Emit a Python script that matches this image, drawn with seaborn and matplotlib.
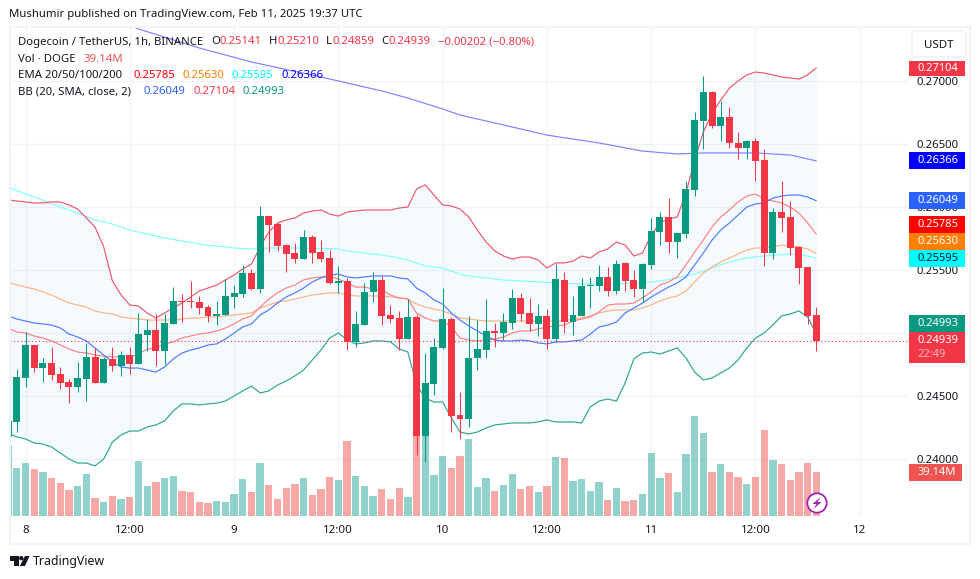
import matplotlib
matplotlib.use("Agg")
import matplotlib.pyplot as plt
from matplotlib.patches import Rectangle, Circle, Polygon, FancyBboxPatch
from matplotlib.transforms import IdentityTransform
import numpy as np
import seaborn as sns

# hours counted from Feb 8 00:00
hours = list(range(-2, 92))
opens = [.24175,.24294,.24643,.24905,.24722,.24762,.24675,.24611,.24571,.24635,
         .24810,.24603,.24794,.24738,.24825,.24754,.24984,.25024,.24857,.25072,
         .25254,.25254,.25246,.25206,.25135,.25143,.25286,.25310,.25476,.25349,
         .25928,.25865,.25698,.25635,.25587,.25762,.25643,.25595,.25397,.25413,
         .24929,.25063,.25326,.25421,.25143,.25119,.24952,.25127,.24183,.24595,
         .24881,.25111,.24349,.24317,.24802,.24865,.25016,.25000,.25079,.25278,
         .25159,.25072,.25135,.24952,.25421,.25087,.25135,.25373,.25373,.25445,
         .25333,.25556,.25421,.25349,.25540,.25802,.25921,.25722,.25786,.26135,
         .26683,.26913,.26643,.26714,.26508,.26468,.26524,.26373,.25635,.25960,
         .25921,.25683,.25524,.25141]
highs = [.24302,.24714,.25008,.24905,.24802,.24889,.24730,.24635,.24770,.24921,
         .24881,.24810,.24889,.24857,.24889,.25159,.25111,.25151,.25151,.25365,
         .25310,.25413,.25294,.25222,.25254,.25429,.25381,.25540,.25508,.26008,
         .25928,.25873,.25706,.25714,.25817,.25778,.25738,.25659,.25532,.25437,
         .25175,.25397,.25484,.25453,.25222,.25175,.25270,.25151,.24841,.24960,
         .25357,.25127,.24532,.25135,.25103,.25270,.25079,.25159,.25349,.25318,
         .25278,.25230,.25190,.25548,.25484,.25294,.25437,.25445,.25540,.25524,
         .25579,.25564,.25500,.25556,.25913,.25960,.26071,.25802,.26206,.26754,
         .27040,.26921,.26841,.26794,.26595,.26532,.26548,.26460,.25992,.26206,
         .26048,.25690,.25524,.25210]
lows = [.24175,.24214,.24571,.24690,.24611,.24627,.24555,.24444,.24532,.24460,
        .24603,.24603,.24698,.24659,.24675,.24754,.24857,.24738,.24754,.25072,
        .25087,.25198,.25151,.25087,.25063,.25143,.25198,.25286,.25341,.25318,
        .25643,.25651,.25484,.25556,.25587,.25556,.25564,.25389,.25318,.24865,
        .24889,.25063,.25246,.25063,.25079,.24865,.24952,.24032,.23976,.24508,
        .24873,.24214,.24159,.24254,.24706,.24802,.24889,.24944,.25032,.25095,
        .25016,.24976,.24873,.24929,.25000,.24984,.25135,.25198,.25333,.25294,
        .25310,.25333,.25286,.25246,.25508,.25698,.25635,.25595,.25754,.26087,
        .26460,.26627,.26524,.26468,.26381,.26381,.26206,.25532,.25587,.25802,
        .25619,.25389,.25072,.24859]
closes = [.24302,.24651,.24905,.24722,.24762,.24667,.24603,.24571,.24643,.24810,
          .24603,.24794,.24738,.24825,.24754,.24992,.25024,.24857,.25079,.25254,
          .25246,.25246,.25198,.25135,.25151,.25294,.25318,.25476,.25349,.25928,
          .25857,.25690,.25627,.25587,.25762,.25635,.25587,.25397,.25413,.24929,
          .25072,.25326,.25421,.25135,.25111,.24952,.25127,.24183,.24603,.24889,
          .25111,.24341,.24317,.24802,.24873,.25016,.25000,.25087,.25278,.25151,
          .25072,.25135,.24952,.25429,.25087,.25143,.25373,.25381,.25445,.25333,
          .25548,.25413,.25349,.25548,.25810,.25921,.25722,.25794,.26143,.26691,
          .26913,.26643,.26714,.26508,.26468,.26524,.26365,.25635,.25960,.25913,
          .25675,.25516,.25135,.24939]
volumes = [63.2,42.7,47.1,41.8,39.1,33.8,29.4,23.1,26.7,37.4,
           16.0,12.5,17.8,15.1,16.9,48.9,26.7,30.2,33.8,35.6,
           22.2,21.3,12.5,11.6,13.3,12.5,19.6,32.9,21.3,47.1,
           27.6,15.1,24.9,28.5,33.8,18.7,24.0,34.7,32.0,66.7,
           35.6,26.7,17.8,24.0,15.1,24.9,16.9,108.6,82.8,36.5,
           53.4,42.7,53.4,68.5,25.8,33.8,22.2,27.6,37.4,24.0,
           26.7,21.3,26.7,52.5,51.6,31.1,32.9,22.2,30.2,14.2,
           24.9,13.3,14.2,19.6,56.0,33.8,38.2,21.3,55.1,88.9,
           73.8,39.1,46.3,39.1,34.7,28.5,34.7,76.5,49.8,46.3,
           32.0,39.1,47.1,39.14]
bb_upper = [.26056,.26048,.26040,.26032,.26032,.26040,.26040,.26016,.25984,.25913,
            .25841,.25683,.25413,.25302,.25222,.25214,.25159,.25119,.25159,.25198,
            .25238,.25286,.25333,.25357,.25381,.25421,.25460,.25508,.25548,.25683,
            .25802,.25873,.25897,.25913,.25952,.25968,.25976,.25944,.25928,.25960,
            .25968,.25976,.25976,.25976,.25976,.25992,.26000,.26143,.26175,.26095,
            .26016,.26008,.25984,.25921,.25817,.25722,.25651,.25611,.25587,.25603,
            .25603,.25579,.25516,.25556,.25556,.25571,.25611,.25595,.25643,.25667,
            .25722,.25698,.25611,.25635,.25778,.25873,.25905,.25921,.26111,.26373,
            .26595,.26746,.26849,.26944,.27000,.27048,.27071,.27063,.27048,.27032,
            .27024,.27016,.27048,.27104]
bb_lower = [.24206,.24175,.24159,.24127,.24119,.24095,.24048,.24000,.23968,.23968,
            .23945,.24000,.24135,.24191,.24222,.24222,.24254,.24270,.24302,.24381,
            .24437,.24437,.24429,.24437,.24444,.24460,.24500,.24540,.24579,.24524,
            .24540,.24587,.24619,.24659,.24706,.24786,.24865,.24960,.25000,.24944,
            .24913,.24921,.24937,.24937,.24929,.24873,.24849,.24587,.24484,.24452,
            .24452,.24325,.24214,.24198,.24214,.24246,.24270,.24278,.24286,.24286,
            .24286,.24294,.24310,.24294,.24294,.24294,.24286,.24413,.24460,.24476,
            .24460,.24603,.24794,.24841,.24849,.24833,.24857,.24881,.24802,.24690,
            .24627,.24643,.24683,.24722,.24786,.24881,.24960,.25000,.25063,.25135,
            .25151,.25175,.25127,.24993]
bb_basis = [.25135,.25111,.25095,.25079,.25072,.25063,.25040,.24992,.24968,.24937,
            .24881,.24825,.24770,.24730,.24722,.24722,.24706,.24690,.24730,.24794,
            .24841,.24865,.24881,.24905,.24913,.24952,.25000,.25048,.25072,.25143,
            .25183,.25238,.25286,.25318,.25357,.25405,.25437,.25460,.25468,.25445,
            .25437,.25445,.25453,.25453,.25453,.25437,.25429,.25357,.25318,.25262,
            .25230,.25159,.25103,.25056,.25016,.24976,.24944,.24937,.24937,.24944,
            .24937,.24921,.24913,.24929,.24929,.24937,.24944,.24992,.25048,.25063,
            .25087,.25159,.25198,.25238,.25286,.25326,.25365,.25397,.25445,.25540,
            .25635,.25738,.25817,.25873,.25936,.26000,.26024,.26032,.26071,.26087,
            .26095,.26095,.26079,.26049]
ema20 = [.25040,.25008,.25000,.24976,.24960,.24937,.24905,.24873,.24849,.24841,
         .24825,.24817,.24810,.24810,.24810,.24833,.24873,.24881,.24913,.24929,
         .24960,.24976,.24992,.25000,.25016,.25040,.25072,.25111,.25135,.25206,
         .25270,.25318,.25357,.25381,.25421,.25437,.25445,.25445,.25429,.25397,
         .25365,.25365,.25349,.25341,.25302,.25278,.25270,.25159,.25119,.25095,
         .25095,.25048,.24960,.24944,.24937,.24944,.24952,.24968,.25000,.25016,
         .25016,.25032,.25048,.25056,.25063,.25095,.25111,.25127,.25167,.25222,
         .25230,.25230,.25238,.25278,.25326,.25381,.25405,.25445,.25540,.25643,
         .25738,.25841,.25921,.25976,.26040,.26087,.26103,.26063,.26048,.26032,
         .26000,.25952,.25873,.25785]
ema50 = [.25405,.25381,.25365,.25349,.25326,.25302,.25270,.25238,.25222,.25206,
         .25175,.25159,.25151,.25127,.25119,.25111,.25103,.25103,.25103,.25103,
         .25111,.25119,.25119,.25127,.25127,.25135,.25143,.25151,.25159,.25198,
         .25222,.25246,.25254,.25270,.25286,.25302,.25310,.25318,.25318,.25302,
         .25294,.25294,.25294,.25294,.25286,.25278,.25270,.25230,.25206,.25190,
         .25175,.25151,.25119,.25111,.25103,.25095,.25095,.25095,.25095,.25095,
         .25095,.25095,.25095,.25095,.25095,.25111,.25119,.25135,.25159,.25175,
         .25183,.25183,.25183,.25198,.25222,.25254,.25278,.25294,.25333,.25405,
         .25476,.25524,.25564,.25595,.25627,.25659,.25675,.25675,.25683,.25698,
         .25690,.25683,.25667,.25630]
ema100_hours = [-2,0,2,4,6,8,10,12,14,16,18,20,22,24,26,28,32,36,37,39,41,43,44,45,46,
                48,49,50,51,53,55,57,59,61,64,68,71,73,75,77,79,81,83,85,88,90,91]
ema100 = [.26159,.26103,.26056,.26000,.25952,.25897,.25865,.25817,.25786,.25754,.25730,
          .25706,.25690,.25675,.25667,.25675,.25675,.25667,.25651,.25635,.25619,.25595,
          .25579,.25556,.25532,.25516,.25492,.25468,.25453,.25437,.25421,.25413,.25405,
          .25397,.25389,.25389,.25397,.25413,.25437,.25468,.25516,.25564,.25595,.25611,
          .25627,.25611,.25595]
ema200_hours = [12,13,20,26,34,41,44,48,50,55,60,66,71,75,78,84,88,91]
ema200 = [.27444,.27413,.27262,.27151,.27032,.26921,.26865,.26778,.26730,.26651,.26571,
          .26508,.26444,.26421,.26429,.26429,.26413,.26366]
price_ticks = [.24, .245, .25, .255, .26, .265, .27]
price_labels = ["0.24000", "0.24500", "0.25000", "0.25500", "0.26000", "0.26500", "0.27000"]
time_ticks = [0, 12, 24, 36, 48, 60, 72, 84, 96]
time_labels = ["8", "12:00", "9", "12:00", "10", "12:00", "11", "12:00", "12"]

UP, DOWN = "#089981", "#f23645"
INK = "#131722"
GRID = "#f0f3fa"
W, H = 980, 579

sns.set_theme(style="white")
plt.rcParams["font.family"] = ["Noto Sans", "DejaVu Sans"]
fig = plt.figure(figsize=(W / 100, H / 100), dpi=100, facecolor="white")
rect = [10 / W, 1 - 516 / H, 898 / W, 489 / H]
xlim = (-1.784, 101.55)
ylim = (0.235476, 0.274286)

ax_grid = fig.add_axes(rect, zorder=0)
ax_vol = fig.add_axes(rect, zorder=1)
ax = fig.add_axes(rect, zorder=2)
for a in (ax_grid, ax_vol, ax):
    for s in a.spines.values():
        s.set_visible(False)
ax_vol.patch.set_visible(False)
ax.patch.set_visible(False)

# grid + axis labels
ax_grid.set_xlim(*xlim)
ax_grid.set_ylim(*ylim)
ax_grid.set_xticks(time_ticks, time_labels)
ax_grid.set_yticks(price_ticks, price_labels)
ax_grid.yaxis.tick_right()
ax_grid.grid(True, color=GRID, lw=0.9)
ax_grid.tick_params(axis="x", length=0, pad=6.5, labelsize=8.3, labelcolor=INK)
ax_grid.tick_params(axis="y", length=0, pad=6.2, labelsize=8.2, labelcolor=INK)

# volume
o = np.array(opens)
c = np.array(closes)
dirs = np.where(c >= o, "up", "down")
sns.barplot(x=hours, y=volumes, hue=dirs, palette={"up": "#26a69a", "down": "#ef5350"},
            native_scale=True, dodge=False, width=0.84, saturation=1, alpha=0.5,
            legend=False, linewidth=0, ax=ax_vol)
ax_vol.set_xlim(*xlim)
ax_vol.set_ylim(0, 435.2)
ax_vol.set_xlabel("")
ax_vol.set_ylabel("")
ax_vol.set_xticks([])
ax_vol.set_yticks([])

# Bollinger band fill and lines
ax.fill_between(hours, bb_lower, bb_upper, color="#2196f3", alpha=0.045, lw=0, zorder=1)
line_kw = dict(ax=ax, legend=False, errorbar=None, estimator=None, lw=0.85, zorder=2)
sns.lineplot(x=ema200_hours, y=ema200, color="#8080ff", **line_kw)
sns.lineplot(x=ema100_hours, y=ema100, color="#80ffff", **line_kw)
sns.lineplot(x=hours, y=ema50, color="#ffb27f", **line_kw)
sns.lineplot(x=hours, y=ema20, color="#ff8080", **line_kw)
sns.lineplot(x=hours, y=bb_upper, color="#f0566a", **line_kw)
sns.lineplot(x=hours, y=bb_lower, color="#2fa692", **line_kw)
sns.lineplot(x=hours, y=bb_basis, color="#4d7bff", **line_kw)

# candles
colors = np.where(c >= o, UP, DOWN)
ax.vlines(hours, lows, highs, colors=list(colors), lw=0.75, zorder=3)
ax.bar(hours, np.abs(c - o), bottom=np.minimum(o, c), width=0.8, color=list(colors), lw=0, zorder=4)
ax.axhline(closes[-1], color=DOWN, lw=0.8, ls=(0, (1, 2.2)), zorder=3)
ax.set_xlim(*xlim)
ax.set_ylim(*ylim)
ax.set_xlabel("")
ax.set_ylabel("")
ax.set_xticks([])
ax.set_yticks([])


def add(artist):
    artist.set_transform(IdentityTransform())
    fig.add_artist(artist)
    return artist


def box(x0, y0, x1, y1, color, z=5):
    add(Rectangle((x0, H - y1), x1 - x0, y1 - y0, facecolor=color, edgecolor="none", zorder=z))


def txt(x, y, s, color=INK, size=8.15, weight="normal", ha="left", z=7):
    fig.text(x / W, 1 - y / H, s, color=color, fontsize=size, fontweight=weight,
             ha=ha, va="center", zorder=z)


# outer frame
add(Rectangle((9.5, H - 544), 960.5, 517, facecolor="none", edgecolor=GRID, lw=1.5, zorder=4))

# header + legend
txt(9, 15, "Mushumir published on TradingView.com, Feb 11, 2025 19:37 UTC")
txt(18, 42, "Dogecoin / TetherUS, 1h, BINANCE")
for x, s, col in [(211, "O", INK), (219, "0.25141", DOWN), (268.5, "H", INK), (277, "0.25210", DOWN),
                  (326, "L", INK), (332, "0.24859", DOWN), (381.5, "C", INK), (388.6, "0.24939", DOWN),
                  (437.5, "\u22120.00202 (\u22120.80%)", DOWN)]:
    txt(x, 42, s, col)
txt(18, 59, "Vol \u00b7 DOGE")
txt(83, 59, "39.14M", "#ef5350")
txt(18, 75.5, "EMA 20/50/100/200")
for x, s, col in [(133, "0.25785", "#ff0000"), (182, "0.25630", "#ff7f00"),
                  (231, "0.25595", "#00ffff"), (281, "0.26366", "#0000ff")]:
    txt(x, 75.5, s, col)
txt(18, 92, "BB (20, SMA, close, 2)")
for x, s, col in [(143, "0.26049", "#2962ff"), (193, "0.27104", DOWN), (242, "0.24993", UP)]:
    txt(x, 92, s, col)

# currency button
add(FancyBboxPatch((912, H - 57), 54, 26, boxstyle="round,pad=0,rounding_size=4",
                   facecolor="white", edgecolor=GRID, lw=1.2, zorder=5))
txt(939, 45, "USDT", size=8.3, ha="center")

# price tags on the scale
for y0, y1, col, s, tc in [(61, 76, DOWN, "0.27104", "white"),
                           (152, 169, "#0000ff", "0.26366", "white"),
                           (192, 209, "#2962ff", "0.26049", "white"),
                           (216, 233, "#ff0000", "0.25785", "white"),
                           (233, 250, "#ff7f00", "0.25630", "white"),
                           (250, 267, "#00ffff", "0.25595", INK),
                           (315, 332, UP, "0.24993", "white")]:
    box(909, y0, 965, y1, col)
    txt(917, (y0 + y1) / 2, s, tc, size=8.0, weight="bold" if tc == "white" else "normal")
box(909, 332, 965, 363, DOWN)
txt(917, 340.5, "0.24939", "white", size=8.0, weight="bold")
txt(917, 354.5, "22:49", "#fbb9bf", size=8.0, weight="bold")
box(909, 464, 962, 481, "#ef5350")
txt(917, 472.5, "39.14M", "white", size=8.0, weight="bold")

# lightning badge
add(Circle((817, H - 503), 9.7, facecolor="white", edgecolor="#9c27b0", lw=1.3, zorder=6))
add(Polygon([(820.5, H - 497), (812.5, H - 504), (816.5, H - 504), (813.5, H - 509),
             (821.5, H - 502), (817.5, H - 502)], closed=True, facecolor="#9c27b0", edgecolor="none", zorder=7))

# TradingView logo
add(Polygon([(10, H - 556), (18.5, H - 556), (18.5, H - 566), (14, H - 566), (14, H - 560.5), (10, H - 560.5)],
            closed=True, facecolor=INK, edgecolor="none", zorder=6))
add(Circle((21.3, H - 558.2), 2.2, facecolor=INK, edgecolor="none", zorder=6))
add(Polygon([(25, H - 556), (29.5, H - 556), (25, H - 566), (19.8, H - 566)],
            closed=True, facecolor=INK, edgecolor="none", zorder=6))
txt(33, 561, "TradingView", INK, size=8.9)

fig.savefig("out.png", dpi=100)
